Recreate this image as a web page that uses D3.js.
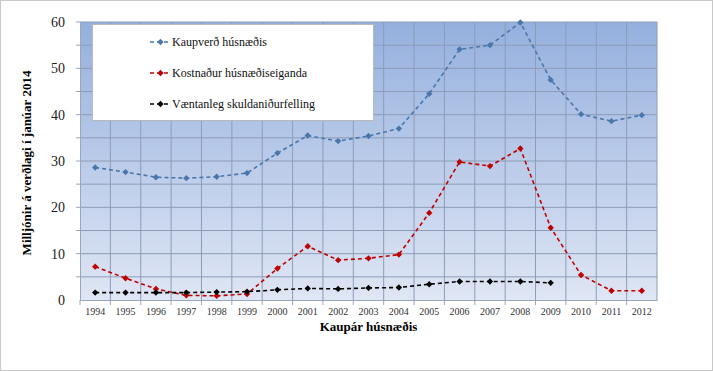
<!DOCTYPE html>
<html lang="is">
<head>
<meta charset="utf-8">
<title>Kaupverð húsnæðis</title>
<script src="https://d3js.org/d3.v7.min.js"></script>
<style>
  body { margin: 0; background: #fff; }
  svg text { font-family: "Liberation Serif", "Times New Roman", serif !important; }
</style>
</head>
<body>
<script>

// data
var years = ["1994","1995","1996","1997","1998","1999","2000","2001","2002","2003",
             "2004","2005","2006","2007","2008","2009","2010","2011","2012"];
var kaupverd = [28.6, 27.6, 26.5, 26.3, 26.6, 27.4, 31.7, 35.5, 34.3, 35.4,
                37.0, 44.5, 54.1, 55.0, 59.9, 47.5, 40.1, 38.6, 39.9];
var kostnadur = [7.2, 4.7, 2.4, 1.0, 0.9, 1.3, 6.8, 11.6, 8.6, 9.0,
                 9.8, 18.8, 29.8, 28.9, 32.7, 15.6, 5.4, 2.0, 2.0];
var nidurfelling = [1.6, 1.6, 1.6, 1.6, 1.7, 1.8, 2.2, 2.5, 2.4, 2.6,
                    2.7, 3.4, 4.0, 4.0, 4.0, 3.7, null, null, null];
var yTicks = [0, 10, 20, 30, 40, 50, 60];
var seriesNames = ["Kaupverð húsnæðis", "Kostnaður húsnæðiseiganda", "Væntanleg skuldaniðurfelling"];
var seriesColors = ["#4a76aa", "#c00000", "#000000"];

var width = 713, height = 371;
var margin = {top: 22, right: 56, bottom: 71, left: 80};
var serif = "'Liberation Serif', 'Times New Roman', serif";

var svg = d3.select("body").append("svg")
    .attr("width", width)
    .attr("height", height);

// outer frame
svg.append("rect")
    .attr("x", 0.5).attr("y", 0.5)
    .attr("width", width - 1).attr("height", height - 1)
    .attr("fill", "#fff")
    .attr("stroke", "#c8c8c8");

var x = d3.scaleBand()
    .domain(years)
    .range([margin.left, width - margin.right]);

var y = d3.scaleLinear()
    .domain([0, 60])
    .range([height - margin.bottom, margin.top]);

var defs = svg.append("defs");
var grad = defs.append("linearGradient")
    .attr("id", "bg").attr("x1", 0).attr("y1", 0).attr("x2", 0).attr("y2", 1);
grad.append("stop").attr("offset", "0%").attr("stop-color", "#95b0de");
grad.append("stop").attr("offset", "100%").attr("stop-color", "#dfe6f4");

svg.append("rect")
    .attr("x", margin.left)
    .attr("y", margin.top)
    .attr("width", x.range()[1] - margin.left)
    .attr("height", y(0) - margin.top)
    .attr("fill", "url(#bg)");

// grid lines every 5
svg.append("g")
    .selectAll("line")
    .data(d3.range(5, 61, 5))
    .enter().append("line")
    .attr("x1", margin.left).attr("x2", x.range()[1])
    .attr("y1", function(d) { return y(d); })
    .attr("y2", function(d) { return y(d); })
    .attr("stroke", "#8c9cb8")
    .attr("stroke-width", 1);

svg.append("g")
    .selectAll("line")
    .data(years)
    .enter().append("line")
    .attr("x1", function(d) { return x(d) + x.bandwidth(); })
    .attr("x2", function(d) { return x(d) + x.bandwidth(); })
    .attr("y1", y(60)).attr("y2", y(0))
    .attr("stroke", "#8c9cb8")
    .attr("stroke-width", 1);

// axes
var yAxis = svg.append("g")
    .attr("transform", "translate(" + margin.left + ",0)")
    .call(d3.axisLeft(y).tickValues(yTicks).tickSize(0).tickPadding(15));
yAxis.attr("font-family", serif);
yAxis.select(".domain").attr("stroke", "#9aa6bd");
yAxis.selectAll("text").attr("font-size", "14px").attr("fill", "#222")
    .style("font-family", serif);

svg.append("g")
    .selectAll("line")
    .data(d3.range(5, 61, 5))
    .enter().append("line")
    .attr("x1", margin.left - 4).attr("x2", margin.left)
    .attr("y1", function(d) { return y(d); })
    .attr("y2", function(d) { return y(d); })
    .attr("stroke", "#9aa6bd");

var xAxis = svg.append("g")
    .attr("transform", "translate(0," + y(0) + ")")
    .call(d3.axisBottom(x).tickSize(0).tickPadding(8));
xAxis.attr("font-family", serif);
xAxis.select(".domain").attr("stroke", "#9aa6bd");
xAxis.selectAll("text").attr("font-size", "10px").attr("fill", "#333")
    .style("font-family", serif);

svg.append("g")
    .selectAll("line")
    .data(years)
    .enter().append("line")
    .attr("x1", function(d) { return x(d); })
    .attr("x2", function(d) { return x(d); })
    .attr("y1", y(0)).attr("y2", y(0) + 5)
    .attr("stroke", "#9aa6bd");

// axis titles
svg.append("text")
    .attr("x", (margin.left + x.range()[1]) / 2)
    .attr("y", 331)
    .attr("text-anchor", "middle")
    .attr("font-size", "13px")
    .attr("font-weight", "bold")
    .style("font-family", serif)
    .text("Kaupár húsnæðis");

svg.append("text")
    .attr("transform", "translate(31," + ((margin.top + y(0)) / 2 + 2) + ") rotate(-90)")
    .attr("text-anchor", "middle")
    .attr("font-size", "13px")
    .attr("font-weight", "bold")
    .style("font-family", serif)
    .text("Milljónir á verðlagi í janúar 2014");

// series
var allSeries = [kaupverd, kostnadur, nidurfelling];

var line = d3.line()
    .defined(function(d) { return d != null; })
    .x(function(d, i) { return x(years[i]) + x.bandwidth() / 2; })
    .y(function(d) { return y(d); });

var marker = d3.symbol().type(d3.symbolSquare).size(20);

allSeries.forEach(function(s, k) {
  svg.append("path")
      .datum(s)
      .attr("fill", "none")
      .attr("stroke", seriesColors[k])
      .attr("stroke-width", 1.6)
      .attr("stroke-dasharray", "4,3")
      .attr("d", line);

  svg.append("g")
      .selectAll("path")
      .data(s.map(function(v, i) { return {v: v, yr: years[i]}; })
               .filter(function(d) { return d.v != null; }))
      .enter().append("path")
      .attr("d", marker)
      .attr("fill", seriesColors[k])
      .attr("transform", function(d) {
        return "translate(" + (x(d.yr) + x.bandwidth() / 2) + "," + y(d.v) + ") rotate(45)";
      });
});

// legend
var legend = svg.append("g");
legend.append("rect")
    .attr("x", 92.5).attr("y", 24.5)
    .attr("width", 281).attr("height", 96)
    .attr("fill", "#fff")
    .attr("stroke", "#b8b8b8");

var item = legend.selectAll("g.item")
    .data(seriesNames)
    .enter().append("g")
    .attr("class", "item")
    .attr("transform", function(d, i) { return "translate(150," + (42 + i * 31) + ")"; });

item.append("line")
    .attr("x1", 0).attr("x2", 21)
    .attr("stroke", function(d, i) { return seriesColors[i]; })
    .attr("stroke-width", 1.6)
    .attr("stroke-dasharray", "4,3");

item.append("path")
    .attr("d", marker)
    .attr("fill", function(d, i) { return seriesColors[i]; })
    .attr("transform", "translate(10.5,0) rotate(45)");

item.append("text")
    .attr("x", 22)
    .attr("dy", "0.35em")
    .attr("font-size", "12px")
    .attr("fill", "#111")
    .style("font-family", serif)
    .text(function(d) { return d; });

</script>
</body>
</html>
